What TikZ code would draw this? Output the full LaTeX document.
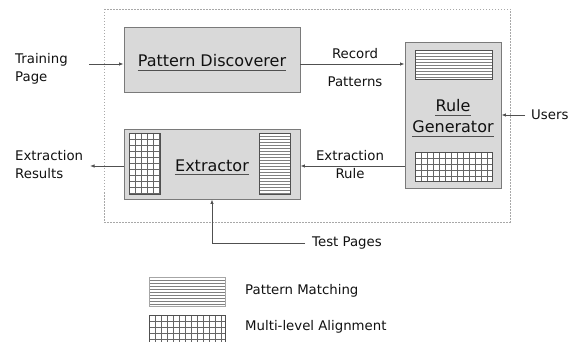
\documentclass[tikz,border=0pt]{standalone}
\usepackage{fontspec}
\setmainfont{DejaVu Sans}
\usepackage{tikz}
\usetikzlibrary{arrows.meta,calc,positioning}
\usepackage{xcolor}
\definecolor{boxgray}{HTML}{D9D9D9}
\definecolor{edgegray}{HTML}{7A7A7A}
\definecolor{linegray}{HTML}{505050}
\definecolor{framegray}{HTML}{A8A8A8}
\definecolor{inkgray}{HTML}{111111}
\tikzset{
  module/.style={draw=edgegray, fill=boxgray, line width=0.9pt, inner sep=0pt},
  modtext/.style={font=\fontsize{16}{22}\selectfont, text=inkgray, inner sep=0pt, anchor=base},
  lbl/.style={font=\fontsize{13.3}{18}\selectfont, text=inkgray, inner sep=0pt},
  uline/.style={draw=linegray, line width=0.9pt},
  frame/.style={draw=framegray, line width=0.6pt, dash pattern=on 1.5pt off 1.5pt},
  arr/.style={-{Latex[length=4.5pt,width=3.5pt]}, draw=linegray, line width=0.8pt},
  hatch/.style={draw=linegray, fill=white, line width=0.8pt, inner sep=0pt,
    path picture={\foreach \k in {0,3,...,90}
      \draw[gray, line width=0.5pt] ([yshift=-\k pt]path picture bounding box.north west)
        -- ([yshift=-\k pt]path picture bounding box.north east);}},
  meshbox/.style={draw=linegray, fill=white, line width=0.8pt, inner sep=0pt,
    path picture={\foreach \k in {0,6,...,90}{
      \draw[gray!80!black, line width=0.6pt] ([xshift=\k pt]path picture bounding box.north west)
        -- ([xshift=\k pt]path picture bounding box.south west);
      \draw[gray!80!black, line width=0.6pt] ([yshift=-\k pt]path picture bounding box.north west)
        -- ([yshift=-\k pt]path picture bounding box.north east);}}},
}
\begin{document}
\begin{tikzpicture}[x=1pt, y=-1pt]
\useasboundingbox (0,0) rectangle (579,342);
% system frame
\draw[frame] (104,9) rectangle (510,222);
% pattern discoverer
\node[module, minimum width=176pt, minimum height=65pt] (pd) at (212,59.5) {};
\node[modtext] (pdtxt) at (212,67) {Pattern Discoverer};
\draw[uline] ([yshift=-3.5pt]pdtxt.base west) -- ([yshift=-3.5pt]pdtxt.base east);
% rule generator
\node[module, minimum width=96pt, minimum height=146pt] (rg) at (453,115) {};
\node[hatch, minimum width=77pt, minimum height=29pt] (rgpm) at (453.5,64.5) {};
\node[meshbox, minimum width=77pt, minimum height=29pt] (rgma) at (453.5,166.5) {};
\node[modtext] (rgtxt1) at (453,112) {Rule};
\node[modtext] (rgtxt2) at (453,133) {Generator};
\draw[uline] ([yshift=-3.5pt]rgtxt1.base west) -- ([yshift=-3.5pt]rgtxt1.base east);
\draw[uline] ([yshift=-3.5pt]rgtxt2.base west) -- ([yshift=-3.5pt]rgtxt2.base east);
% extractor
\node[module, minimum width=176pt, minimum height=70pt] (ex) at (212,164) {};
\node[meshbox, minimum width=31pt, minimum height=61pt] (exma) at (144.5,163.5) {};
\node[hatch, minimum width=31pt, minimum height=61pt] (expm) at (274.5,163.5) {};
\node[modtext] (extxt) at (212,172) {Extractor};
\draw[uline] ([yshift=-2.5pt]extxt.base west) -- ([yshift=-2.5pt]extxt.base east);
% inputs and outputs
\node[lbl, anchor=west, align=left] (train) at (15,69) {Training\\Page};
\coordinate (tpin) at (89,64);
\draw[arr] (tpin) -- (tpin -| pd.west);
\draw[arr] ([yshift=-4.5pt]pd.east) -- ([yshift=-4.5pt]pd.east -| rg.west);
\node[lbl] (rec) at (355,54) {Record};
\node[lbl] (pat) at (355,82) {Patterns};
\node[lbl, anchor=west] (users) at (531,115) {Users};
\coordinate (usr) at (525,115);
\draw[arr] (usr) -- (rg.east);
\draw[arr] ([yshift=-51pt]rg.west) -- ([yshift=-51pt]rg.west -| ex.east);
\node[lbl, align=center] (exrule) at (350,165) {Extraction\\Rule};
\coordinate (res) at (90,166);
\draw[arr] (res -| ex.west) -- (res);
\node[lbl, anchor=west, align=left] (exres) at (15,165) {Extraction\\Results};
\coordinate (tpg) at (305,243);
\draw[arr] (tpg) -| (ex.south);
\node[lbl, anchor=west] (test) at (312,243) {Test Pages};
% legend
\node[hatch, draw=gray!70, minimum width=76pt, minimum height=29pt] (lgpm) at (187,291.5) {};
\node[meshbox, minimum width=76pt, minimum height=29pt] (lgma) at (187,329.5) {};
\node[lbl, anchor=west] (lgpmtxt) at (245,291) {Pattern Matching};
\node[lbl, anchor=west] (lgmatxt) at (245,327) {Multi-level Alignment};
\end{tikzpicture}
\end{document}
